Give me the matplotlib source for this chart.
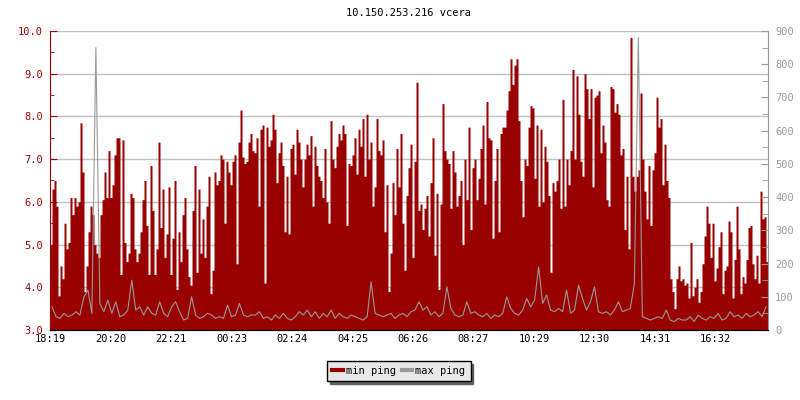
import numpy as np
import matplotlib
matplotlib.use("Agg")
import matplotlib.pyplot as plt
from matplotlib.lines import Line2D
from matplotlib.ticker import MultipleLocator, FormatStrFormatter

plt.rcParams['font.family'] = ['DejaVu Sans Mono', 'DejaVu Sans']
plt.rcParams['font.size'] = 7.5

RED = '#990000'
GRAY = '#999999'

title = '10.150.253.216 vcera'
start = '18:19'
span = 1438  # minuty na ose x

tick_labels = ['18:19', '20:20', '22:21', '00:23', '02:24', '04:25',
               '06:26', '08:27', '10:29', '12:30', '14:31', '16:32']

# min ping (leva osa, ms) - vzorek po cca 4 minutach
min_1 = [5.0, 6.3, 6.5, 5.9, 3.8, 4.5, 4.2, 5.5, 4.9, 5.05, 6.1, 5.7, 6.1, 5.9, 6.0, 7.85, 6.7,
         3.9, 4.5, 5.3, 5.9, 5.7, 5.0, 4.8, 4.7, 5.7, 6.05, 6.7, 6.1, 7.2, 6.1, 6.4, 7.1, 7.5,
         7.5, 4.3, 7.45, 5.05, 4.6, 4.8, 6.2, 6.1, 4.9, 4.6, 4.8, 5.3, 6.05, 6.5, 5.45, 4.3, 6.85]
min_2 = [5.8, 4.3, 4.9, 7.4, 5.4, 6.3, 4.7, 5.25, 6.35, 4.3, 5.15, 6.5, 3.95, 5.3, 4.6, 5.7, 6.1,
         4.9, 4.25, 4.05, 5.8, 6.85, 4.35, 6.3, 4.8, 5.6, 4.7, 5.9, 6.6, 3.85, 4.4, 6.7, 6.4, 6.5,
         7.1, 7.0, 5.5, 6.95, 6.7, 6.4, 6.95, 7.1, 4.55, 7.4, 8.15, 7.05, 6.9, 6.95, 7.4, 7.6, 7.2]
min_3 = [7.15, 7.5, 5.9, 7.7, 7.8, 4.1, 7.75, 7.3, 7.45, 8.05, 7.7, 6.45, 7.15, 7.4, 6.85, 5.3,
         6.6, 5.25, 7.25, 7.35, 6.65, 7.7, 7.4, 7.0, 6.35, 7.0, 7.35, 7.1, 7.55, 5.9, 7.3, 6.85,
         6.6, 6.5, 6.1, 7.25, 6.0, 5.5, 7.9, 7.0, 6.8, 7.3, 7.6, 7.45, 7.8, 7.6, 5.45, 6.9, 6.85,
         7.1, 7.5]
min_4 = [6.65, 7.7, 7.3, 7.95, 6.6, 8.05, 7.0, 7.4, 5.9, 6.35, 7.95, 7.2, 7.1, 7.45, 5.3, 6.4,
         3.9, 4.8, 6.45, 5.7, 7.25, 6.35, 7.6, 5.5, 4.4, 6.15, 6.8, 7.35, 4.7, 6.95, 8.8, 5.8,
         5.95, 5.35, 5.85, 6.15, 5.2, 6.45, 7.5, 4.75, 6.2, 3.95, 5.95, 8.3, 7.2, 7.0, 6.9, 5.85,
         7.2, 6.7, 5.9]
min_5 = [6.15, 6.5, 5.0, 7.0, 6.05, 7.75, 5.35, 6.8, 7.0, 6.05, 6.55, 7.25, 7.8, 5.95, 8.35,
         7.5, 7.45, 5.15, 6.5, 7.25, 5.3, 7.6, 7.75, 7.75, 8.15, 8.6, 9.35, 8.75, 9.2, 9.35, 7.9,
         6.5, 5.65, 7.0, 6.85, 7.75, 8.25, 8.2, 6.55, 7.8, 5.9, 7.7, 6.0, 7.3, 6.95, 6.15, 4.35,
         6.45, 6.25, 6.5, 7.0]
min_6 = [5.85, 8.4, 5.9, 7.0, 6.4, 7.2, 9.1, 7.0, 8.95, 8.05, 6.95, 6.6, 9.0, 8.65, 7.95, 8.65,
         6.35, 8.45, 8.5, 8.6, 7.15, 7.8, 7.4, 6.05, 5.9, 8.7, 8.65, 8.1, 8.3, 8.05, 7.1, 7.25,
         5.35, 6.6, 4.9, 9.85, 6.6, 6.25, 6.6, 6.75, 8.55, 7.0, 6.25, 5.6, 6.85, 5.45, 6.75, 7.15,
         8.45, 7.75, 7.95]
min_7 = [6.4, 7.35, 6.5, 6.1, 4.2, 3.9, 3.5, 4.2, 4.5, 4.15, 4.2, 4.05, 4.1, 3.75, 5.05, 3.8,
         4.0, 4.2, 3.65, 3.9, 4.55, 5.2, 5.9, 5.5, 4.7, 5.5, 4.15, 4.45, 4.95, 5.3, 3.85, 4.4,
         4.5, 5.55, 5.3, 3.75, 4.65, 5.9, 4.9, 3.85, 4.25, 4.1, 4.65, 5.4, 5.45, 4.55, 4.2, 4.75,
         4.1, 6.25, 5.6, 5.65, 4.6]

# max ping (prava osa, ms) - vzorek po cca 8 minutach
max_1 = [70, 40, 35, 50, 40, 45, 55, 45, 100, 120, 50, 850, 80, 55, 90, 50, 85, 40, 45, 60,
         150, 60, 70, 45, 70, 50]
max_2 = [45, 85, 50, 40, 70, 85, 55, 30, 35, 100, 45, 35, 40, 50, 45, 35, 40, 35, 75, 40, 45,
         80, 45, 40, 45]
max_3 = [45, 55, 35, 40, 30, 45, 35, 50, 35, 30, 40, 55, 45, 60, 40, 55, 35, 50, 40, 60, 35,
         50, 40, 35, 45, 40]
max_4 = [35, 30, 40, 145, 50, 45, 40, 45, 50, 35, 45, 50, 40, 55, 60, 85, 60, 70, 45, 55, 40,
         50, 130, 65, 45]
max_5 = [40, 45, 85, 50, 55, 45, 40, 50, 35, 45, 40, 50, 100, 65, 50, 45, 60, 95, 70, 90, 190,
         80, 105, 60, 55, 65]
max_6 = [55, 120, 50, 60, 135, 95, 60, 85, 130, 55, 50, 55, 45, 60, 85, 55, 60, 65, 140, 880,
         40, 35, 30, 35, 40]
max_7 = [35, 60, 30, 25, 35, 30, 30, 40, 25, 45, 35, 30, 40, 35, 50, 30, 35, 55, 40, 45, 35,
         50, 40, 45, 55, 40, 70]

min_ping = min_1 + min_2 + min_3 + min_4 + min_5 + min_6 + min_7
max_ping = max_1 + max_2 + max_3 + max_4 + max_5 + max_6 + max_7


def minutes(hhmm):
    h, m = map(int, hhmm.split(':'))
    h0, m0 = map(int, start.split(':'))
    return (h * 60 + m - h0 * 60 - m0) % 1440


t1 = np.arange(len(min_ping) + 1) * span / len(min_ping)
y1 = np.append(min_ping, min_ping[-1])
t2 = (np.arange(len(max_ping)) + 0.5) * span / len(max_ping)

fig = plt.figure(figsize=(8, 4), dpi=100)
ax = fig.add_axes([0.0625, 0.175, 0.8975, 0.7475])
ax2 = ax.twinx()

ax.fill_between(t1, y1, 3.0, step='post', color=RED, lw=0, antialiased=False)
ax2.plot(t2, max_ping, color=GRAY, lw=0.8)

ax.set_xlim(0, span)
ax.set_ylim(3, 10)
ax2.set_ylim(0, 900)

# osa x
ax.set_xticks([minutes(l) for l in tick_labels], tick_labels)
ax.tick_params(axis='x', direction='in', length=5, colors='black', pad=3)

# leva osa
ax.yaxis.set_major_locator(MultipleLocator(1))
ax.yaxis.set_minor_locator(MultipleLocator(0.5))
ax.yaxis.set_major_formatter(FormatStrFormatter('%.1f'))
ax.tick_params(axis='y', which='major', direction='in', length=5, colors=RED, pad=5)
ax.tick_params(axis='y', which='minor', direction='in', length=3, colors=RED)
ax.grid(axis='y', color='#c0c0c0', lw=1)
ax.set_axisbelow(True)

# prava osa
ax2.yaxis.set_major_locator(MultipleLocator(100))
ax2.yaxis.set_minor_locator(MultipleLocator(50))
ax2.tick_params(axis='y', which='major', direction='in', length=5, colors=GRAY, pad=5)
ax2.tick_params(axis='y', which='minor', direction='in', length=4, colors=GRAY)

for a in (ax, ax2):
    a.spines['top'].set_visible(False)
ax.spines['right'].set_visible(False)
ax2.spines['left'].set_visible(False)
ax.spines['left'].set_color(RED)
ax2.spines['right'].set_color(GRAY)
ax2.spines['bottom'].set_color('black')

fig.text(0.51125, 0.9675, title, ha='center', va='center', fontsize=7.5)

handles = [Line2D([], [], color=RED, lw=3), Line2D([], [], color=GRAY, lw=3)]
leg = fig.legend(handles, ['min ping', 'max ping'], loc='center',
                 bbox_to_anchor=(0.4985, 0.0725), ncol=2, frameon=True, fancybox=False,
                 shadow={'color': '#606060', 'alpha': 1}, edgecolor='black',
                 facecolor='#e8e8e8', framealpha=1, borderpad=0.5, handlelength=1.0,
                 handletextpad=0.3, columnspacing=0.6, fontsize=7.5)
leg.get_frame().set_linewidth(1.0)

fig.savefig('out.png', dpi=100)
